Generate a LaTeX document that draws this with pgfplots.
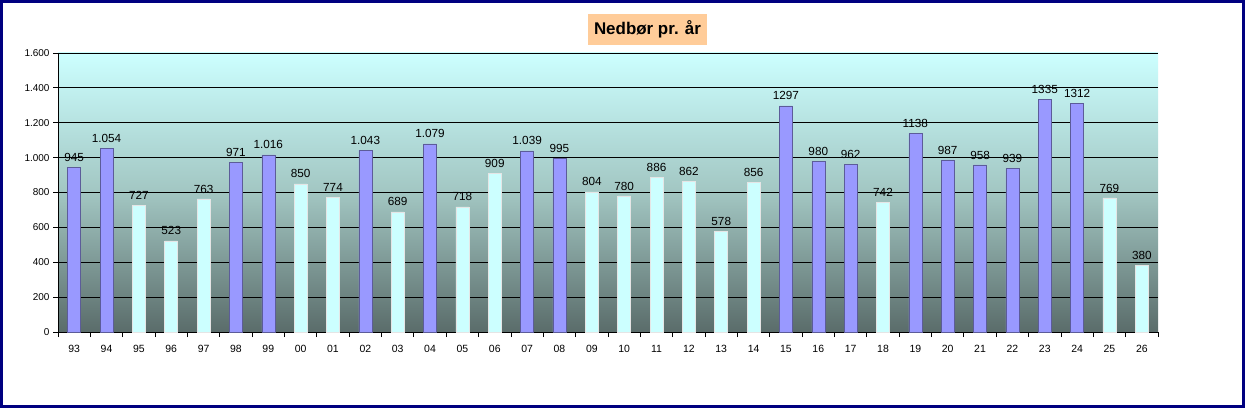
\documentclass[border=0pt]{standalone}
\usepackage{pgfplots}
\pgfplotsset{compat=1.18}
\usepackage{pgfplotstable}
\usepackage{fontspec}
\setmainfont{Liberation Sans}
\definecolor{barpurple}{HTML}{9999FF}
\definecolor{barcyan}{HTML}{CCFFFF}
\definecolor{bgtop}{HTML}{CCFFFF}
\definecolor{bgmid}{HTML}{A2C6C2}
\definecolor{bgbot}{HTML}{5A6C6A}
\definecolor{titlebg}{HTML}{FFCC99}
\definecolor{frame}{HTML}{000080}

\pgfplotstableread{
x y lab
0 945 945
1 1054 1.054
5 971 971
6 1016 1.016
9 1043 1.043
11 1079 1.079
14 1039 1.039
15 995 995
22 1297 1297
23 980 980
24 962 962
26 1138 1138
27 987 987
28 958 958
29 939 939
30 1335 1335
31 1312 1312
}\purpletab

\pgfplotstableread{
x y lab
2 727 727
3 523 523
4 763 763
7 850 850
8 774 774
10 689 689
12 718 718
13 909 909
16 804 804
17 780 780
18 886 886
19 862 862
20 578 578
21 856 856
25 742 742
32 769 769
33 380 380
}\cyantab

\begin{document}
\begin{tikzpicture}[x=1bp,y=1bp]
\useasboundingbox (0,0) rectangle (1245,408);
\fill[white] (0,0) rectangle (1245,408);
\begin{axis}[
  at={(58bp,76bp)}, anchor=south west,
  scale only axis, width=1100bp, height=279bp,
  xmin=-0.5, xmax=33.5, ymin=0, ymax=1600,
  axis x line*=bottom, axis y line*=left,
  axis line style={black, line width=0.8pt, -},
  xtick={0,...,33},
  xticklabels={93,94,95,96,97,98,99,00,01,02,03,04,05,06,07,08,09,10,11,12,13,14,15,16,17,18,19,20,21,22,23,24,25,26},
  minor xtick={-0.5,0.5,...,33.5},
  major x tick style={draw=none},
  minor x tick style={black, line width=0.8pt},
  minor tick length=5bp,
  ytick={0,200,...,1600},
  ymajorgrids,
  major grid style={black, line width=0.8pt},
  major y tick style={black, line width=0.8pt},
  major tick length=5bp,
  tick align=outside,
  yticklabel style={font=\fontsize{10}{11}\selectfont, /pgf/number format/1000 sep={.}},
  xticklabel style={font=\fontsize{10.5}{11}\selectfont, yshift=-4.5bp},
  /pgf/number format/assume math mode=true,
  /pgf/number format/1000 sep={.},
  axis background/.style={top color=bgtop, bottom color=bgbot, middle color=bgmid},
  ybar, bar width=13bp, bar shift=0pt,
  point meta=explicit symbolic,
  nodes near coords,
  nodes near coords style={font=\fontsize{11.8}{13}\selectfont, black, inner sep=1bp, yshift=4.5bp},
  clip=false,
]
\addplot[fill=barpurple, draw=barpurple!60!black, line width=0.5pt] table[x=x, y=y, meta=lab] {\purpletab};
\addplot[fill=barcyan, draw=white!80!gray, line width=0.5pt] table[x=x, y=y, meta=lab] {\cyantab};
\end{axis}
\node[fill=titlebg, inner sep=0pt, minimum width=119bp, minimum height=31bp, font=\bfseries\fontsize{17}{19}\selectfont] at (647.5,378.5) {Nedbør pr. år};
\draw[frame, line width=3bp] (1.5,1.5) rectangle (1243.5,406.5);
\end{tikzpicture}
\end{document}
